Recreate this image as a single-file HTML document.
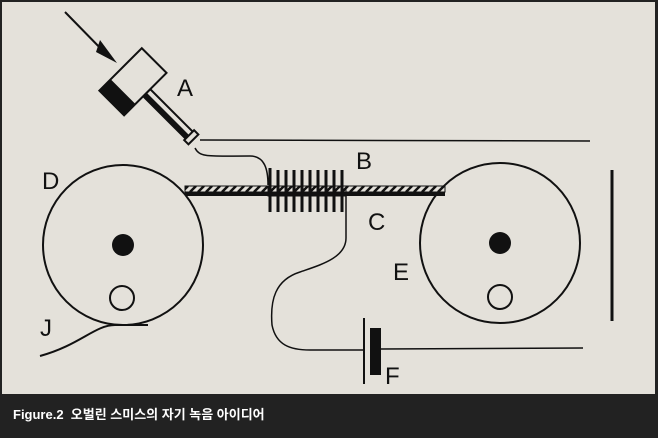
<!DOCTYPE html>
<html><head><meta charset="utf-8"><style>
html,body{margin:0;padding:0;background:#222;}
body{width:658px;height:438px;position:relative;overflow:hidden;font-family:"Liberation Sans","Noto Sans CJK KR",sans-serif;}
.cap{position:absolute;left:13px;top:404px;color:#fff;font-size:13px;font-weight:bold;}
</style></head><body>
<svg width="658" height="438" style="position:absolute;left:0;top:0">
<defs><pattern id="h" width="8" height="6" patternUnits="userSpaceOnUse"><rect width="8" height="6" fill="#e4e1da"/><path d="M-2,6 L4,0 M6,6 L12,0" stroke="#111" stroke-width="2.5"/></pattern></defs>
<rect x="2" y="2" width="653" height="392" fill="#e4e1da"/>
<g fill="none" stroke="#111" stroke-width="2">
<circle cx="123" cy="245" r="80"/>
<circle cx="500" cy="243" r="80"/>
<circle cx="122" cy="298" r="12"/>
<circle cx="500" cy="297" r="12"/>
<path d="M40,356 C80,345 95,325 115,325 L148,325"/>
<path d="M200,140 L590,141" stroke-width="1.5"/>
<path d="M195,148 C200,158 210,156 250,156 C265,156 268,170 268,185" stroke-width="1.5"/>
<path d="M346,190 L346,238 C346,258 320,265 300,272 C275,280 270,300 272,325 C276,345 290,350 310,350 L364,350" stroke-width="1.5"/>
<path d="M381,349 L583,348" stroke-width="1.5"/>
<path d="M364,318 L364,384" stroke-width="2"/>
<path d="M612,170 L612,321" stroke-width="3"/>
<path d="M65,12 L108,56" stroke-width="2"/>
</g>
<path d="M117,63 L100,40 L96,52 Z" fill="#111"/>
<circle cx="123" cy="245" r="11" fill="#111"/>
<circle cx="500" cy="243" r="11" fill="#111"/>
<rect x="185" y="186" width="260" height="6" fill="url(#h)" stroke="#111" stroke-width="1"/>
<rect x="185" y="192" width="260" height="4" fill="#111"/>
<g stroke="#111" stroke-width="3">
<path d="M270,168V212M278,170V212M286,170V212M294,170V212M302,170V212M310,170V212M318,170V212M326,170V212M334,170V212M342,170V212"/>
</g>
<rect x="268" y="186" width="78" height="10" fill="none" stroke="#111" stroke-width="1"/>
<g transform="translate(134,80) rotate(-45)">
<rect x="-5" y="18" width="10" height="62" fill="#e4e1da" stroke="#111" stroke-width="2"/>
<rect x="-5" y="18" width="5" height="62" fill="#111"/>
<rect x="-7" y="78" width="14" height="6" fill="#e4e1da" stroke="#111" stroke-width="2"/>
<rect x="-32" y="-17" width="60" height="35" fill="#e4e1da" stroke="#111" stroke-width="2"/>
<rect x="-32" y="-17" width="16" height="35" fill="#111"/>
</g>
<rect x="370" y="328" width="11" height="47" fill="#111"/>
<g font-family="Liberation Sans, sans-serif" font-size="24" fill="#111">
<text x="177" y="96">A</text>
<text x="356" y="169">B</text>
<text x="368" y="230">C</text>
<text x="42" y="189">D</text>
<text x="393" y="280">E</text>
<text x="385" y="384">F</text>
<text x="40" y="336">J</text>
</g>
</svg>
<div class="cap">Figure.2&nbsp; 오벌린 스미스의 자기 녹음 아이디어</div>
</body></html>
